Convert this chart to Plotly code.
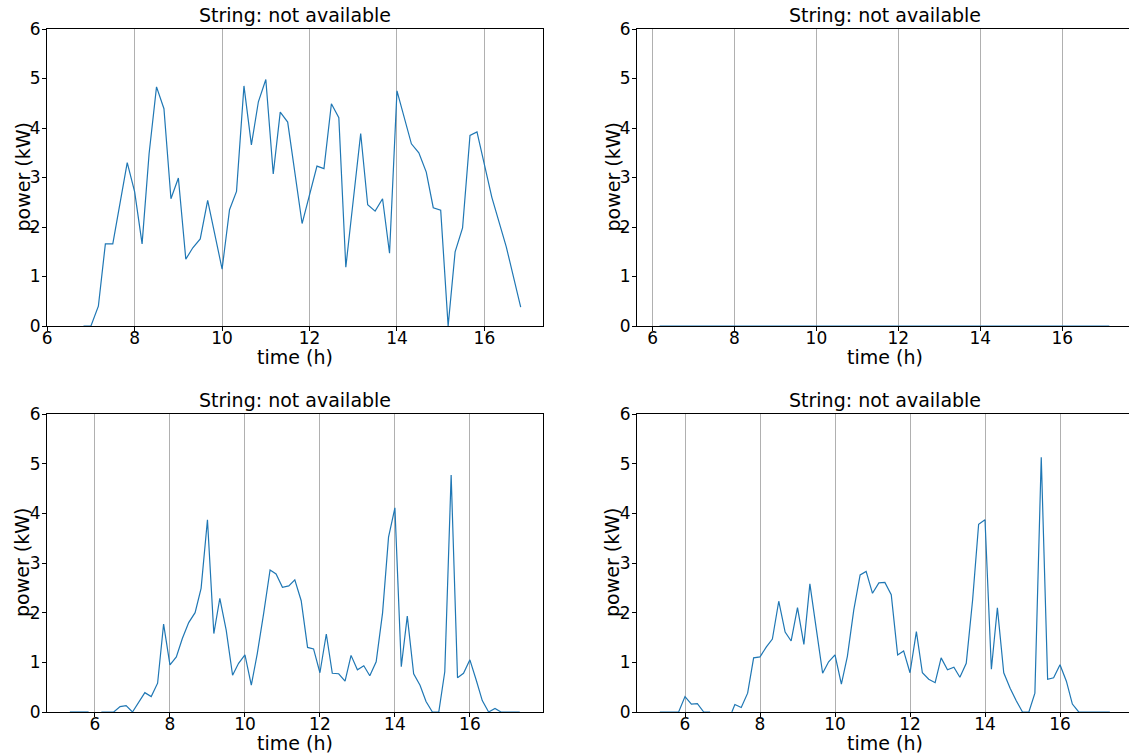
import plotly.graph_objects as go

nan = float("nan")

# ---------------- data ----------------
tl_time = [6.83, 7.0, 7.17, 7.33, 7.5, 7.83, 8.0, 8.17, 8.33, 8.5, 8.67, 8.83, 9.0, 9.17, 9.33,
           9.5, 9.67, 10.0, 10.17, 10.33, 10.5, 10.67, 10.83, 11.0, 11.17, 11.33, 11.5, 11.83,
           12.17, 12.33, 12.5, 12.67, 12.83, 13.17, 13.33, 13.5, 13.67, 13.83, 14.0, 14.33, 14.5,
           14.67, 14.83, 15.0, 15.17, 15.33, 15.5, 15.67, 15.83, 16.17, 16.5, 16.83]
tl_power = [0.0, 0.0, 0.40, 1.66, 1.66, 3.30, 2.71, 1.66, 3.48, 4.83, 4.39, 2.57, 2.99, 1.35, 1.58,
            1.76, 2.54, 1.15, 2.35, 2.72, 4.85, 3.66, 4.53, 4.98, 3.07, 4.32, 4.12, 2.07,
            3.23, 3.18, 4.49, 4.21, 1.19, 3.89, 2.45, 2.32, 2.57, 1.47, 4.75, 3.68, 3.50,
            3.11, 2.39, 2.34, 0.0, 1.50, 1.98, 3.85, 3.92, 2.60, 1.60, 0.38]

tr_time = [6.17, 17.15]
tr_power = [0.0, 0.0]

bl_time = [5.33, 5.5, 5.67, 5.83, 6.0, 6.17, 6.33, 6.5, 6.67, 6.83, 7.0, 7.33, 7.5, 7.67, 7.83,
           8.0, 8.17, 8.33, 8.5, 8.67, 8.83, 9.0, 9.17, 9.33, 9.5, 9.67, 9.83, 10.0, 10.17,
           10.33, 10.5, 10.67, 10.83, 11.0, 11.17, 11.33, 11.5, 11.67, 11.83, 12.0, 12.17,
           12.33, 12.5, 12.67, 12.83, 13.0, 13.17, 13.33, 13.5, 13.67, 13.83, 14.0, 14.17,
           14.33, 14.5, 14.67, 14.83, 15.0, 15.17, 15.33, 15.5, 15.67, 15.83, 16.0, 16.17,
           16.33, 16.5, 16.67, 16.83, 17.0, 17.17, 17.33]
bl_power = [0.0, 0.0, 0.0, 0.0, nan, 0.0, 0.0, 0.0, 0.11, 0.13, 0.0, 0.39, 0.31, 0.58, 1.77,
            0.95, 1.11, 1.48, 1.80, 2.00, 2.49, 3.87, 1.58, 2.29, 1.65, 0.74, 0.98, 1.15, 0.54,
            1.18, 1.99, 2.86, 2.78, 2.51, 2.54, 2.66, 2.24, 1.30, 1.27, 0.79, 1.57,
            0.78, 0.77, 0.62, 1.14, 0.85, 0.93, 0.73, 1.01, 1.99, 3.52, 4.11, 0.91,
            1.93, 0.77, 0.54, 0.21, 0.0, 0.0, 0.81, 4.77, 0.69, 0.78, 1.05, 0.64,
            0.23, 0.0, 0.07, 0.0, 0.0, 0.0, 0.0]

br_time = [5.33, 5.5, 5.67, 5.83, 6.0, 6.17, 6.33, 6.5, 6.67, 6.83, 7.25, 7.33, 7.5, 7.67, 7.83,
           8.0, 8.17, 8.33, 8.5, 8.67, 8.83, 9.0, 9.17, 9.33, 9.5, 9.67, 9.83, 10.0, 10.17,
           10.33, 10.5, 10.67, 10.83, 11.0, 11.17, 11.33, 11.5, 11.67, 11.83, 12.0, 12.17,
           12.33, 12.5, 12.67, 12.83, 13.0, 13.17, 13.33, 13.5, 13.67, 13.83, 14.0, 14.17,
           14.33, 14.5, 14.67, 14.83, 15.0, 15.17, 15.33, 15.5, 15.67, 15.83, 16.0, 16.17,
           16.33, 16.5, 16.67, 16.83, 17.0, 17.17, 17.33]
br_power = [0.0, 0.0, 0.0, 0.0, 0.31, 0.16, 0.17, 0.0, 0.0, nan, 0.0, 0.15, 0.09, 0.38, 1.09,
            1.11, 1.31, 1.47, 2.23, 1.61, 1.43, 2.10, 1.36, 2.58, 1.68, 0.78, 1.01, 1.15, 0.56,
            1.12, 2.05, 2.76, 2.83, 2.39, 2.60, 2.61, 2.36, 1.15, 1.23, 0.79, 1.62,
            0.79, 0.66, 0.59, 1.09, 0.85, 0.90, 0.70, 0.98, 2.26, 3.78, 3.87, 0.86,
            2.10, 0.79, 0.48, 0.23, 0.0, 0.0, 0.38, 5.13, 0.66, 0.69, 0.95, 0.62,
            0.16, 0.0, 0.0, 0.0, 0.0, 0.0, 0.0]

titles = ["String: not available"] * 4
x_label = "time (h)"
y_label = "power (kW)"
y_ticks = [0, 1, 2, 3, 4, 5, 6]

# ---------------- layout geometry ----------------
W, H = 1129, 754
FONT = "DejaVu Sans"
LINE = "#1f77b4"

def px_x(p):
    return p / W

def px_y(p):
    return (H - p) / H

panels = [
    dict(xd=(47, 543), yd=(29, 326), xr=[5.995, 17.34], right=False, t=tl_time, p=tl_power),
    dict(xd=(637, 1129), yd=(29, 326), xr=[5.62, 17.63], right=True, t=tr_time, p=tr_power),
    dict(xd=(47, 543), yd=(414, 712), xr=[4.72, 17.95], right=False, t=bl_time, p=bl_power),
    dict(xd=(637, 1129), yd=(414, 712), xr=[4.72, 17.84], right=True, t=br_time, p=br_power),
]

fig = go.Figure()
annotations = []
for i, pn in enumerate(panels, start=1):
    sfx = "" if i == 1 else str(i)
    fig.add_trace(go.Scatter(x=pn["t"], y=pn["p"], mode="lines",
                             line=dict(color=LINE, width=1.2),
                             xaxis="x" + sfx, yaxis="y" + sfx,
                             connectgaps=False, showlegend=False, hoverinfo="skip"))
    xdom = [px_x(pn["xd"][0]), px_x(pn["xd"][1])]
    ydom = [px_y(pn["yd"][1]), px_y(pn["yd"][0])]
    fig.update_layout(**{
        "xaxis" + sfx: dict(domain=xdom, range=pn["xr"], anchor="y" + sfx, automargin=False,
                            tick0=0, dtick=2, showgrid=True, gridcolor="#b0b0b0", gridwidth=1,
                            showline=True, linecolor="black", linewidth=1, mirror=True,
                            ticks="outside", ticklen=4, tickwidth=1, tickcolor="black",
                            ticklabelstandoff=-7, zeroline=False,
                            tickfont=dict(family=FONT, size=17, color="black")),
        "yaxis" + sfx: dict(domain=ydom, range=[0, 6], anchor="x" + sfx, automargin=False,
                            tickvals=y_ticks, showgrid=False,
                            showline=True, linecolor="black", linewidth=1,
                            mirror=(not pn["right"]),
                            ticks="outside", ticklen=4, tickwidth=1, tickcolor="black",
                            ticklabelstandoff=-2, zeroline=False,
                            tickfont=dict(family=FONT, size=17, color="black")),
    })
    cx = pn["xd"][0] + 248
    annotations.append(dict(text=titles[i - 1], x=px_x(cx), y=ydom[1], xref="paper", yref="paper",
                            xanchor="center", yanchor="bottom", yshift=1, showarrow=False,
                            font=dict(family=FONT, size=19, color="black")))
    annotations.append(dict(text=x_label, x=px_x(cx), y=px_y(pn["yd"][1] + 31),
                            xref="paper", yref="paper", xanchor="center", yanchor="middle",
                            showarrow=False, font=dict(family=FONT, size=19, color="black")))
    ylx = 22 if not pn["right"] else 612
    annotations.append(dict(text=y_label, x=px_x(ylx), y=px_y((pn["yd"][0] + pn["yd"][1]) / 2),
                            xref="paper", yref="paper", xanchor="center", yanchor="middle",
                            textangle=-90, showarrow=False,
                            font=dict(family=FONT, size=19, color="black")))

fig.update_layout(width=W, height=H, margin=dict(l=0, r=0, t=0, b=0, autoexpand=False),
                  paper_bgcolor="white", plot_bgcolor="white",
                  annotations=annotations, font=dict(family=FONT))

fig.write_html("out.html", config={"displayModeBar": False},
               post_script="document.body.style.margin='0';document.body.style.overflow='hidden';")
